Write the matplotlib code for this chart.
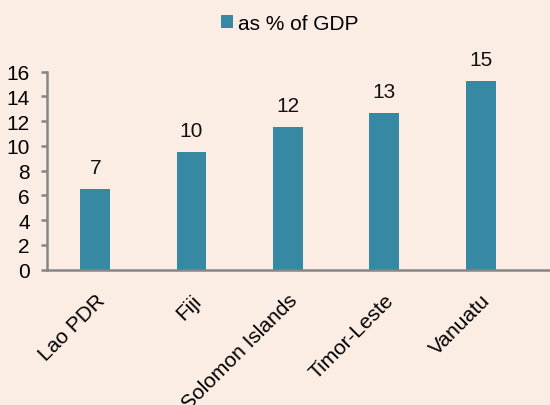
import matplotlib.pyplot as plt

plt.rcParams.update({
    "font.family": ["Liberation Sans", "DejaVu Sans"],
    "font.size": 15,
})

countries = ["Lao PDR", "Fiji", "Solomon Islands", "Timor-Leste", "Vanuatu"]
pct_gdp = [6.5, 9.5, 11.5, 12.65, 15.2]
labels = ["7", "10", "12", "13", "15"]

bg = "#fcede4"
bar_col = "#3789a3"
axis_col = "#868686"

fig = plt.figure(figsize=(5.5, 4.06), dpi=100, facecolor=bg)
ax = fig.add_axes([0.0855, 0.3333, 0.9145, 0.488], facecolor=bg)

x = range(len(countries))
bars = ax.bar(x, pct_gdp, width=0.31, color=bar_col, label="as % of GDP")

# value labels sit well above each bar
for xi, v, lab in zip(x, pct_gdp, labels):
    ax.annotate(lab, (xi, v), xytext=(0, 9), textcoords="offset points",
                ha="center", va="bottom", fontsize=15, color="#111111")

ax.set_xlim(-0.5, 4.72)
ax.set_ylim(0, 16)
ax.set_yticks(range(0, 17, 2))
ax.set_xticks(list(x))
ax.set_xticklabels(countries, rotation=45, ha="right", rotation_mode="anchor")

for s in ["top", "right"]:
    ax.spines[s].set_visible(False)
for s in ["left", "bottom"]:
    ax.spines[s].set_color(axis_col)
    ax.spines[s].set_linewidth(1.8)
ax.spines["left"].set_bounds(0, 16)
ax.tick_params(axis="y", direction="out", length=4.3, width=1.8, color=axis_col,
               labelsize=15, pad=8)
ax.tick_params(axis="x", length=0, labelsize=15, pad=15)

fig.legend(handles=[bars], labels=["as % of GDP"], loc="center",
           bbox_to_anchor=(0.527, 0.94), frameon=False, fontsize=15,
           handlelength=0.55, handleheight=0.55, handletextpad=0.25)

fig.savefig("out.png", dpi=100, facecolor=bg)
